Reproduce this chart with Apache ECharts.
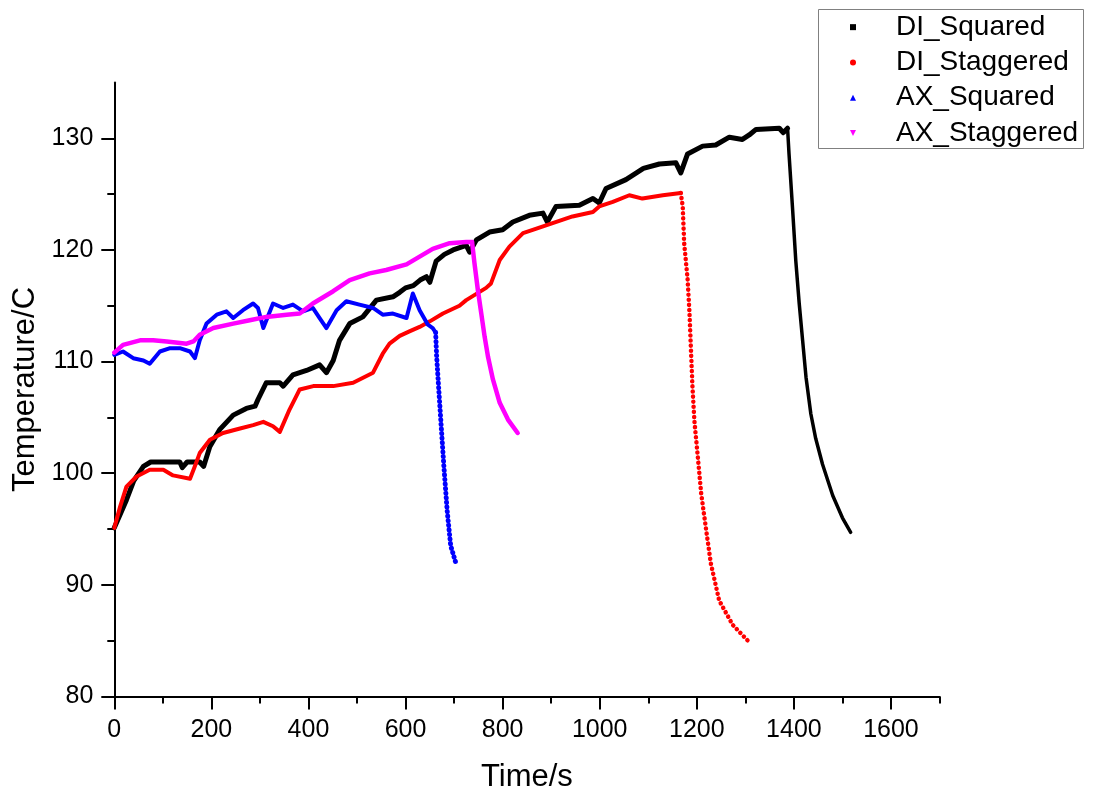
<!DOCTYPE html>
<html>
<head>
<meta charset="utf-8">
<script src="https://cdn.jsdelivr.net/npm/echarts@6/dist/echarts.min.js"></script>
<style>
html,body{margin:0;padding:0;background:#fff;}
#chart{width:1097px;height:792px;}
</style>
</head>
<body>
<div id="chart"></div>
<script>
// ---- data: [time (s), temperature (C)] ----
const seriesNames = ['DI_Squared', 'DI_Staggered', 'AX_Squared', 'AX_Staggered'];

const diSquaredHeat = [[0,95.1],[12,96.3],[25,97.6],[40,99.3],[60,100.6],[75,101.0],[100,101.0],[135,101.0],[140,100.5],[150,101.0],[176,101.0],[184,100.6],[197,102.4],[217,103.9],[245,105.2],[272,105.8],[290,106.0],[296,106.6],[313,108.1],[341,108.1],[348,107.8],[368,108.8],[396,109.2],[423,109.7],[437,109.0],[451,110.1],[464,111.9],[485,113.4],[512,114.0],[540,115.5],[574,115.8],[588,116.2],[600,116.6],[616,116.8],[630,117.3],[643,117.6],[650,117.1],[663,119.0],[680,119.6],[698,120.0],[725,120.4],[732,119.8],[746,120.9],[773,121.6],[800,121.8],[821,122.5],[855,123.1],[883,123.3],[892,122.5],[910,123.9],[958,124.0],[986,124.6],[999,124.2],[1013,125.5],[1054,126.3],[1090,127.3],[1123,127.7],[1157,127.8],[1167,126.9],[1181,128.6],[1212,129.3],[1239,129.4],[1267,130.1],[1294,129.9],[1308,130.3],[1322,130.8],[1370,130.9],[1378,130.5],[1387,130.9]];
const diSquaredCool = [[1387,130.9],[1390,128.6],[1397,123.9],[1404,119.0],[1411,115.2],[1418,111.9],[1425,108.6],[1435,105.3],[1445,103.1],[1459,100.8],[1480,98.0],[1500,96.0],[1517,94.7]];

const diStaggeredHeat = [[0,95.1],[12,97.0],[25,98.8],[46,99.7],[73,100.3],[101,100.3],[121,99.8],[156,99.5],[165,100.5],[176,101.8],[197,103.0],[224,103.6],[259,104.0],[286,104.3],[307,104.6],[327,104.2],[341,103.7],[361,105.7],[382,107.5],[410,107.8],[451,107.8],[492,108.1],[533,109.0],[553,110.7],[567,111.6],[588,112.3],[608,112.7],[629,113.1],[650,113.6],[677,114.3],[711,115.0],[725,115.5],[766,116.6],[776,117.0],[794,119.1],[814,120.3],[842,121.5],[862,121.8],[903,122.4],[944,123.0],[986,123.4],[999,123.9],[1027,124.3],[1061,124.9],[1088,124.6],[1130,124.9],[1167,125.1]];
const diStaggeredCool = [[1167,125.1],[1171,123.9],[1174,120.6],[1181,117.4],[1185,114.3],[1188,111.0],[1191,107.8],[1195,104.7],[1202,101.5],[1209,98.2],[1219,95.0],[1229,91.9],[1246,88.6],[1274,86.4],[1305,85.0]];

const axSquaredHeat = [[0,110.6],[18,110.9],[39,110.3],[60,110.1],[73,109.8],[94,110.9],[115,111.2],[135,111.2],[156,110.9],[166,110.3],[176,111.9],[190,113.4],[211,114.2],[231,114.5],[245,113.9],[265,114.6],[286,115.2],[296,114.8],[307,113.0],[327,115.2],[348,114.8],[368,115.1],[389,114.5],[409,114.8],[423,113.9],[437,113.0],[458,114.6],[478,115.4],[505,115.1],[533,114.8],[553,114.2],[574,114.3],[602,113.9],[615,116.1],[629,114.6],[646,113.3],[656,113.0],[662,112.6]];
const axSquaredCool = [[662,112.6],[664,110.5],[668,107.8],[673,104.5],[679,100.6],[686,96.5],[693,93.5],[704,91.9]];

const axStaggeredHeat = [[0,110.8],[18,111.5],[53,111.9],[80,111.9],[108,111.8],[149,111.6],[163,111.8],[176,112.4],[204,113.0],[245,113.4],[279,113.7],[313,114.0],[355,114.2],[382,114.3],[409,115.2],[451,116.3],[485,117.3],[526,117.9],[560,118.2],[602,118.7],[629,119.4],[656,120.1],[691,120.6],[725,120.7],[737,120.7]];
const axStaggeredCool = [[737,120.7],[742,118.8],[749,116.4],[756,114.3],[763,112.2],[770,110.4],[780,108.4],[794,106.3],[811,104.8],[831,103.6]];

const xMajorTicks = [0,200,400,600,800,1000,1200,1400,1600];
const xMinorTicks = [100,300,500,700,900,1100,1300,1500,1700];
const yMajorTicks = [80,90,100,110,120,130];
const yMinorTicks = [85,95,105,115,125];

// ---- chart ----
const colors = ['#000000', '#ff0000', '#0000ff', '#ff00ff'];
const icons = [
  'path://M0,0H10V10H0Z',
  'path://M5,0A5,5 0 1 1 5,10A5,5 0 1 1 5,0Z',
  'path://M5,0L10,10L0,10Z',
  'path://M0,0L10,0L5,10Z'
];
const font = 'Liberation Sans, Arial, sans-serif';
const plain = v => String(v);

function heatSeries(i, data, width) {
  return {
    name: seriesNames[i], type: 'line', data: data, xAxisIndex: 0, yAxisIndex: 0,
    showSymbol: false, symbol: 'none', smooth: false,
    lineStyle: { color: colors[i], width: width, join: 'round', cap: 'round' },
    itemStyle: { color: colors[i] }, z: 2 + i
  };
}
function coolSeries(i, data, width, dash) {
  return {
    name: seriesNames[i], type: 'line', data: data, xAxisIndex: 0, yAxisIndex: 0,
    showSymbol: false, symbol: 'none',
    lineStyle: { color: colors[i], width: width, type: dash || 'solid', cap: 'round', join: 'round' },
    itemStyle: { color: colors[i] }, z: 2 + i
  };
}

const chart = echarts.init(document.getElementById('chart'), null, { renderer: 'canvas' });
chart.setOption({
  animation: false,
  backgroundColor: '#ffffff',
  grid: { left: 114.3, top: 82.5, right: 157.5, bottom: 95.6, containLabel: false, outerBoundsMode: 'none' },
  legend: {
    orient: 'vertical', left: 850, top: 9.5, padding: 0, itemGap: 0,
    itemWidth: 76, itemHeight: 6, symbolKeepAspect: true,
    textStyle: { fontFamily: font, fontSize: 28, color: '#000', lineHeight: 35.3 },
    data: seriesNames.map((n, i) => ({ name: n, icon: icons[i], itemStyle: { color: colors[i], opacity: 1 } })),
    selectedMode: false
  },
  graphic: [{
    type: 'rect', shape: { x: 818.5, y: 9.5, width: 265, height: 139 },
    style: { fill: 'none', stroke: '#808080', lineWidth: 1 }, z: 100
  }],
  xAxis: [{
    type: 'value', min: 0, max: 1700, position: 'bottom',
    name: 'Time/s', nameLocation: 'middle', nameGap: 66,
    nameTextStyle: { fontFamily: font, fontSize: 31, color: '#000' },
    axisLine: { show: true, onZero: false, lineStyle: { color: '#000', width: 2 } },
    axisTick: { show: true, length: 13, customValues: xMajorTicks, lineStyle: { color: '#000', width: 2 } },
    axisLabel: { show: true, customValues: xMajorTicks, formatter: plain, margin: 21, fontFamily: font, fontSize: 25, color: '#000' },
    splitLine: { show: false }
  }, {
    type: 'value', min: 0, max: 1700, position: 'bottom',
    axisLine: { show: false, onZero: false },
    axisTick: { show: true, length: 7, customValues: xMinorTicks, lineStyle: { color: '#000', width: 2 } },
    axisLabel: { show: false }, splitLine: { show: false }
  }],
  yAxis: [{
    type: 'value', min: 80, max: 135, position: 'left',
    name: 'Temperature/C', nameLocation: 'middle', nameGap: 66, nameRotate: 90,
    nameTextStyle: { fontFamily: font, fontSize: 31, color: '#000' },
    axisLine: { show: true, onZero: false, lineStyle: { color: '#000', width: 2 } },
    axisTick: { show: true, length: 13, customValues: yMajorTicks, lineStyle: { color: '#000', width: 2 } },
    axisLabel: { show: true, customValues: yMajorTicks, formatter: plain, margin: 21, fontFamily: font, fontSize: 25, color: '#000' },
    splitLine: { show: false }
  }, {
    type: 'value', min: 80, max: 135, position: 'left',
    axisLine: { show: false, onZero: false },
    axisTick: { show: true, length: 7, customValues: yMinorTicks, lineStyle: { color: '#000', width: 2 } },
    axisLabel: { show: false }, splitLine: { show: false }
  }],
  series: [
    heatSeries(0, diSquaredHeat, 5),
    coolSeries(0, diSquaredCool, 3.5),
    heatSeries(1, diStaggeredHeat, 4),
    coolSeries(1, diStaggeredCool, 4.5, [0.1, 5]),
    heatSeries(2, axSquaredHeat, 4),
    coolSeries(2, axSquaredCool, 5, [0.1, 4.5]),
    heatSeries(3, axStaggeredHeat, 4.5),
    coolSeries(3, axStaggeredCool, 4.5)
  ]
});
</script>
</body>
</html>
